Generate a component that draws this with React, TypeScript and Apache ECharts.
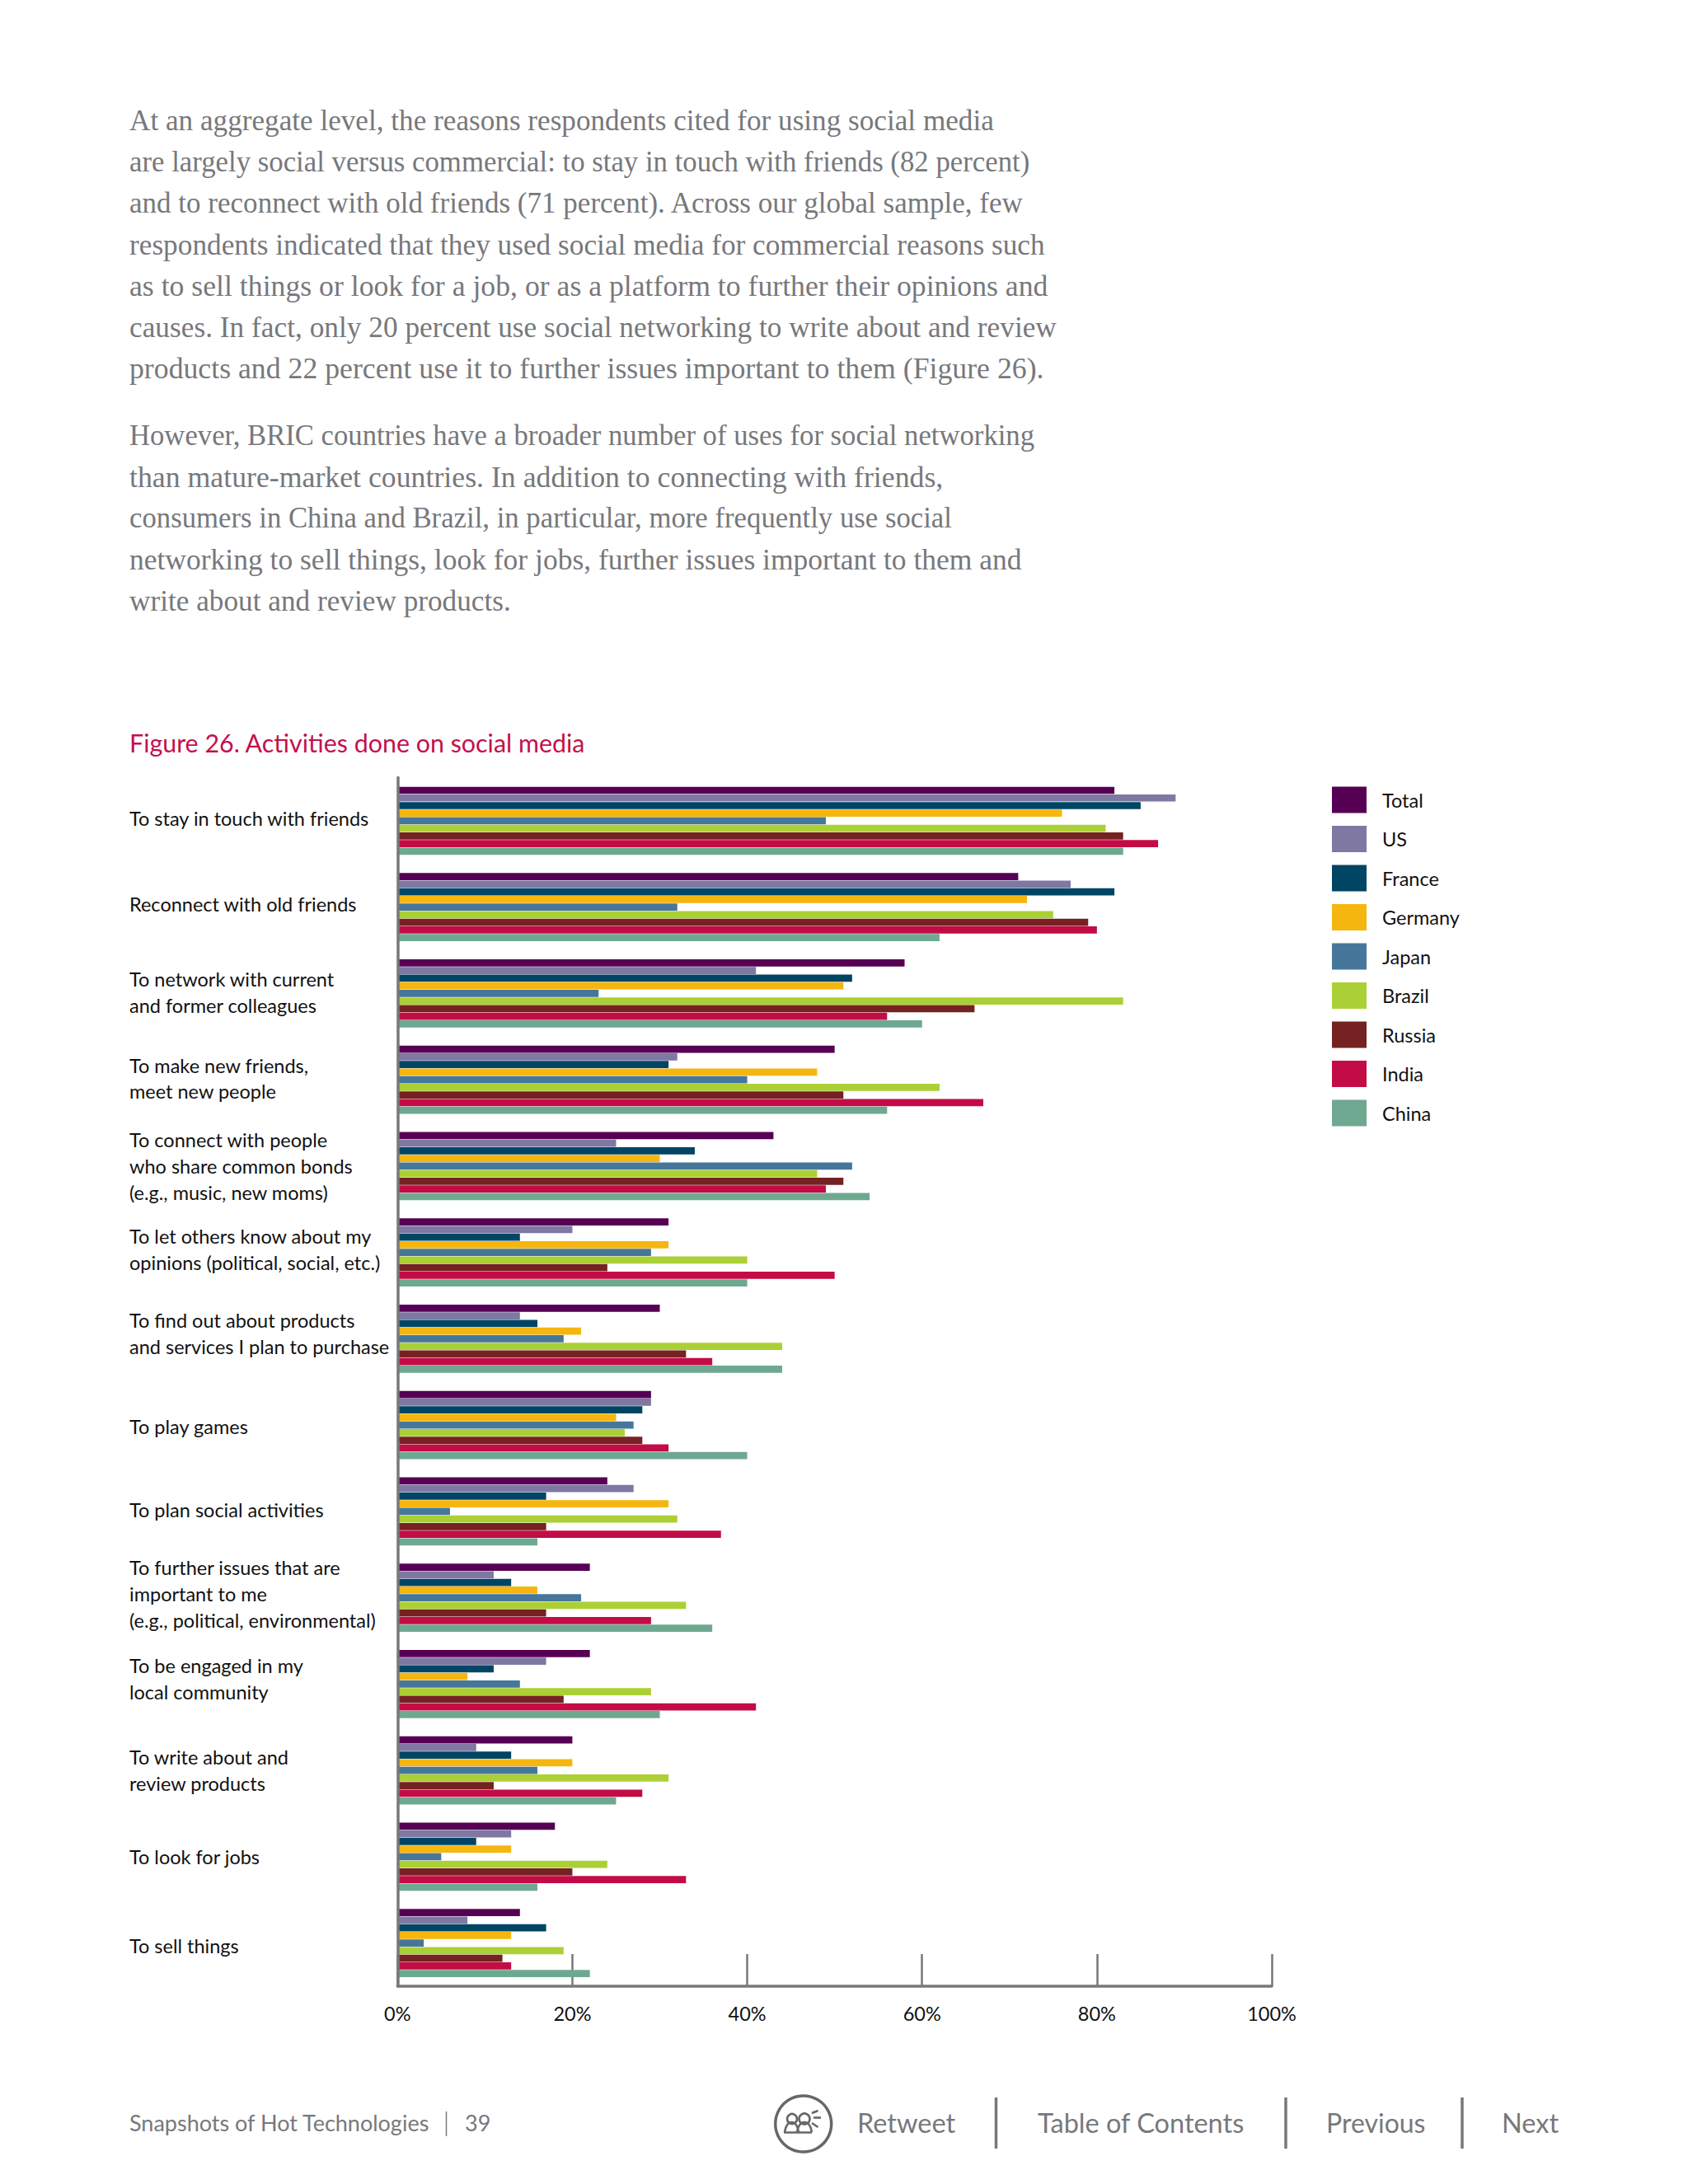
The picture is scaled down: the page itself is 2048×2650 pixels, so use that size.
import React, { useEffect, useRef } from "react";
import * as echarts from "echarts";

const categories = [
  "To stay in touch with friends",
  "Reconnect with old friends",
  "To network with current\nand former colleagues",
  "To make new friends,\nmeet new people",
  "To connect with people\nwho share common bonds\n(e.g., music, new moms)",
  "To let others know about my\nopinions (political, social, etc.)",
  "To find out about products\nand services I plan to purchase",
  "To play games",
  "To plan social activities",
  "To further issues that are\nimportant to me\n(e.g., political, environmental)",
  "To be engaged in my\nlocal community",
  "To write about and\nreview products",
  "To look for jobs",
  "To sell things",
];
const labelShift = [-3.4, -3.4, -1.7, -1.7, 0, -3.4, -6.8, 1.7, -1.7, -5, -6.8, 0, 0, 3.4];

const total = [82, 71, 58, 50, 43, 31, 30, 29, 24, 22, 22, 20, 18, 14];
const us = [89, 77, 41, 32, 25, 20, 14, 29, 27, 11, 17, 9, 13, 8];
const france = [85, 82, 52, 31, 34, 14, 16, 28, 17, 13, 11, 13, 9, 17];
const germany = [76, 72, 51, 48, 30, 31, 21, 25, 31, 16, 8, 20, 13, 13];
const japan = [49, 32, 23, 40, 52, 29, 19, 27, 6, 21, 14, 16, 5, 3];
const brazil = [81, 75, 83, 62, 48, 40, 44, 26, 32, 33, 29, 31, 24, 19];
const russia = [83, 79, 66, 51, 51, 24, 33, 28, 17, 17, 19, 11, 20, 12];
const india = [87, 80, 56, 67, 49, 50, 36, 31, 37, 29, 41, 28, 33, 13];
const china = [83, 62, 60, 56, 54, 40, 44, 40, 16, 36, 30, 25, 16, 22];

const seriesNames = ["Total", "US", "France", "Germany", "Japan", "Brazil", "Russia", "India", "China"];
const seriesValues = [total, us, france, germany, japan, brazil, russia, india, china];
const seriesColors = ["#560054", "#7f78a3", "#004564", "#f6b610", "#47769b", "#abd035", "#762122", "#c30c46", "#6fa890"];

const paragraphOne = [
  "At an aggregate level, the reasons respondents cited for using social media",
  "are largely social versus commercial: to stay in touch with friends (82 percent)",
  "and to reconnect with old friends (71 percent). Across our global sample, few",
  "respondents indicated that they used social media for commercial reasons such",
  "as to sell things or look for a job, or as a platform to further their opinions and",
  "causes. In fact, only 20 percent use social networking to write about and review",
  "products and 22 percent use it to further issues important to them (Figure 26).",
];
const paragraphOneWidths = [1049, 1093, 1086, 1111, 1115, 1125, 1110];
const paragraphTwo = [
  "However, BRIC countries have a broader number of uses for social networking",
  "than mature-market countries. In addition to connecting with friends,",
  "consumers in China and Brazil, in particular, more frequently use social",
  "networking to sell things, look for jobs, further issues important to them and",
  "write about and review products.",
];
const paragraphTwoWidths = [1098, 988, 998, 1083, 463];
const figureTitle = "Figure 26. Activities done on social media";
const tickValues = [0, 20, 40, 60, 80, 100];

const GREY = "#77787b";
const SANS = "Lato";
const BODY = "Liberation Serif";
const LABEL = 23.5;
const LINE = 32;

function measure(text: string, font: string) {
  const ctx = document.createElement("canvas").getContext("2d")!;
  ctx.font = font;
  return ctx.measureText(text).width;
}
function bodyLine(text: string, baseline: number, width: number) {
  const fontSize = 35.5;
  return {
    type: "text",
    x: 157,
    y: baseline - 11.5,
    scaleX: width / measure(text, `${fontSize}px "${BODY}"`),
    silent: true,
    style: { text, fontFamily: BODY, fontSize, fill: GREY, verticalAlign: "middle", align: "left" },
  };
}
function footText(text: string, x: number, size: number) {
  return {
    type: "text",
    x,
    y: 2575,
    silent: true,
    style: { text, fontFamily: SANS, fontSize: size, fill: GREY, verticalAlign: "middle", align: "left" },
  };
}
function vRule(x: number, y1: number, y2: number, w: number) {
  return { type: "line", silent: true, shape: { x1: x, y1, x2: x, y2 }, style: { stroke: GREY, lineWidth: w } };
}
function stroke(points: number[][]) {
  return {
    type: "polyline",
    silent: true,
    shape: { points },
    style: { stroke: "#66676a", lineWidth: 2.6, fill: "none" },
  };
}
function ringShape(cx: number, cy: number, r: number, w: number) {
  return {
    type: "circle",
    silent: true,
    shape: { cx, cy, r },
    style: { stroke: "#66676a", lineWidth: w, fill: "none" },
  };
}
function body(x1: number, x2: number) {
  return {
    type: "bezierCurve",
    silent: true,
    shape: { x1, y1: 2587, x2, y2: 2587, cpx1: x1 + 2, cpy1: 2571, cpx2: x2 - 2, cpy2: 2571 },
    style: { stroke: "#66676a", lineWidth: 2.6, fill: "none" },
  };
}

export default function App() {
  const ref = useRef<HTMLDivElement>(null);
  useEffect(() => {
    const chart = echarts.init(ref.current!, undefined, { renderer: "svg" });
    chart.setOption({
      animation: false,
      backgroundColor: "#ffffff",
      grid: { left: 482.3, right: 2048 - 1543, top: 943.6, bottom: 2650 - 2410, containLabel: false },
      legend: {
        orient: "vertical",
        left: 1616,
        top: 954.5,
        padding: 0,
        icon: "rect",
        itemWidth: 42,
        itemHeight: 32,
        itemGap: 15.5,
        selectedMode: false,
        textStyle: { fontFamily: SANS, fontSize: LABEL, color: "#111111", padding: [4, 0, 0, 14] },
        data: seriesNames,
      },
      xAxis: {
        type: "value",
        min: 0,
        max: 100,
        interval: 20,
        splitLine: { show: false },
        axisLine: { show: true, onZero: false, lineStyle: { color: GREY, width: 3.5 } },
        axisTick: { show: true, inside: true, length: 39, lineStyle: { color: GREY, width: 2.5 } },
        axisLabel: {
          show: true,
          margin: 21,
          fontFamily: SANS,
          fontSize: LABEL,
          color: "#111111",
          formatter: (v: number) => (tickValues.includes(v) ? `${v}%` : ""),
        },
      },
      yAxis: {
        type: "category",
        inverse: true,
        z: 3,
        data: categories.map((value, i) => ({
          value,
          textStyle: {
            align: "left",
            verticalAlign: "top",
            padding: [labelShift[i] - (value.split("\n").length * LINE) / 2, 0, 0, 0],
          },
        })),
        axisLine: { show: true, onZero: false, lineStyle: { color: GREY, width: 3.5 } },
        axisTick: { show: false },
        axisLabel: {
          margin: 325.3,
          align: "left",
          fontFamily: SANS,
          fontSize: LABEL,
          lineHeight: LINE,
          color: "#111111",
        },
      },
      series: seriesNames.map((name, i) => ({
        name,
        type: "bar",
        data: seriesValues[i],
        barWidth: 8.7,
        barGap: "6.3%",
        itemStyle: { color: seriesColors[i] },
        silent: true,
      })),
      graphic: [
        ...paragraphOne.map((t, i) => bodyLine(t, 158 + i * 50.05, paragraphOneWidths[i])),
        ...paragraphTwo.map((t, i) => bodyLine(t, 540 + i * 50.05, paragraphTwoWidths[i])),
        {
          type: "text",
          x: 157,
          y: 900.5,
          silent: true,
          style: { text: figureTitle, fontFamily: SANS, fontSize: 30.4, fill: "#c4104d", verticalAlign: "middle", align: "left" },
        },
        footText("Snapshots of Hot Technologies", 157, 27),
        vRule(541.5, 2562, 2592, 1.5),
        footText("39", 564, 27),
        ringShape(974.7, 2577, 34, 3.5),
        ringShape(961, 2571, 6, 2.6),
        ringShape(976, 2571, 6.5, 2.6),
        body(952, 969),
        body(967, 985),
        stroke([[951, 2587.5], [985, 2587.5]]),
        stroke([[985, 2564], [992.5, 2561]]),
        stroke([[987, 2569.5], [996, 2569.5]]),
        stroke([[985, 2576], [992.5, 2581]]),
        footText("Retweet", 1040, 32.5),
        vRule(1208.5, 2545, 2607, 3.5),
        footText("Table of Contents", 1259, 32.5),
        vRule(1560, 2545, 2607, 3.5),
        footText("Previous", 1609, 32),
        vRule(1774, 2545, 2607, 3.5),
        footText("Next", 1822, 32.5),
      ],
    });
    return () => chart.dispose();
  }, []);
  return <div ref={ref} style={{ position: "absolute", left: 0, top: 0, width: 2048, height: 2650 }} />;
}
